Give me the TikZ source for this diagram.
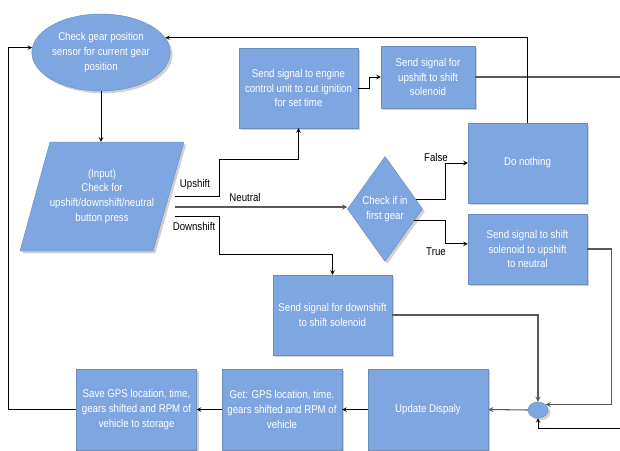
\documentclass[tikz,border=0pt]{standalone}
\usepackage{fontspec}
\setmainfont{Liberation Sans}[FakeStretch=0.86]
\usetikzlibrary{shapes.geometric,shadows}
\definecolor{boxblue}{HTML}{7EA6E0}

\begin{document}
\begin{tikzpicture}[x=0.03cm, y=-0.03cm, >=stealth]
  \tikzstyle{fillonly}=[fill=boxblue, draw=boxblue!85!black, line width=0.4pt,
    drop shadow={shadow xshift=2pt, shadow yshift=-2pt, fill=black, opacity=0.18}]
  \tikzstyle{base}=[fillonly, text=white, align=center,
    inner sep=0pt, font=\fontsize{9.6}{12.7}\selectfont]
  \tikzstyle{box}=[base, rectangle, minimum width=3.57cm, minimum height=2.4cm]
  \tikzstyle{decide}=[base, diamond, minimum width=2.25cm, minimum height=3.15cm]
  \tikzstyle{lbl}=[font=\fontsize{9.6}{12.7}\selectfont, inner sep=0pt]
  \tikzstyle{line}=[line width=0.7pt]
  \tikzstyle{grayline}=[line width=0.9pt, black!65]

  \useasboundingbox (0,0) rectangle (620,450);

  % input parallelogram
  \draw[fillonly] (50,142) -- (184,142) -- (153,251) -- (20,251) -- cycle;

  \node[base, ellipse, minimum width=3.48cm, minimum height=2.31cm] (sensor) at (101,52.5)
    {Check gear position\\sensor for current gear\\position};
  \node[align=center, text=white, inner sep=0pt, minimum height=3.27cm,
    font=\fontsize{9.6}{12.7}\selectfont] (input) at (102,196.5)
    {(Input)\\Check for\\upshift/downshift/neutral\\button press};
  \node[box] (engine) at (298.5,88) {Send signal to engine\\control unit to cut ignition\\for set time};
  \node[box, minimum width=2.82cm, minimum height=1.86cm] (upsol) at (428,77)
    {Send signal for\\upshift to shift\\solenoid};
  \node[box] (nothing) at (527.5,163) {Do nothing};
  \node[decide] (first) at (385,209) {Check if in\\first gear};
  \node[box, minimum height=2.1cm] (neutral) at (527.5,249)
    {Send signal to shift\\solenoid to upshift\\to neutral};
  \node[box] (downsol) at (332.5,315) {Send signal for downshift\\to shift solenoid};
  \node[base, ellipse, minimum width=0.6cm, minimum height=0.48cm] (join) at (538,410) {};
  \node[box, minimum width=3.6cm, minimum height=2.43cm] (display) at (428,409.5) {Update Dispaly};
  \node[box, minimum width=3.6cm, minimum height=2.43cm] (get) at (282,409.5)
    {Get: GPS location, time,\\gears shifted and RPM of\\vehicle};
  \node[box, minimum width=3.6cm, minimum height=2.43cm] (save) at (136.5,409.5)
    {Save GPS location, time,\\gears shifted and RPM of\\vehicle to storage};

  % free ends
  \coordinate (outU) at (175,196);
  \coordinate (outN) at (175,207);
  \coordinate (outD) at (175,216);
  \coordinate (edgeA) at (620,77);
  \coordinate (edgeB) at (620,428);

  \node[lbl] (lU) at (195,185) {Upshift};
  \node[lbl] (lN) at (245,197) {Neutral};
  \node[lbl] (lD) at (194,226) {Downshift};
  \node[lbl] (lF) at (436,157) {False};
  \node[lbl] (lT) at (436,252) {True};

  \draw[line, ->] (sensor.south) -- (sensor.south |- input.north);
  \draw[line, ->] (outU) -- ++(44,0) -- ++(0,-37) -| (engine.south);
  \draw[grayline, ->] (outN) -- (outN -| first.west);
  \draw[line, ->] (outD) -- ++(44,0) -- ++(0,38) -| (downsol.north);
  \draw[line, ->] (engine.east) -- ++(11,0) |- (upsol.west);
  \draw[grayline] (upsol.east) -- (edgeA);
  \draw[line, ->] (nothing.north) |- (sensor.13);
  \draw[line, ->] (first.18) -- ++(30,0) |- (nothing.west);
  \draw[line, ->] (first.-22) -- ++(31,0) |- (neutral.175);
  \draw[grayline, ->] (neutral.east) -- ++(24,0) |- (join.35);
  \draw[grayline, ->] (downsol.east) -| (join.north);
  \draw[line, ->] (edgeB) -| (join.south);
  \draw[grayline, ->] (join.west) -- (display.east);
  \draw[line, ->] (display.west) -- (get.east);
  \draw[line, ->] (get.west) -- (save.east);
  \draw[line, ->] (save.west) -- ++(-68,0) |- (sensor.176);
\end{tikzpicture}
\end{document}
